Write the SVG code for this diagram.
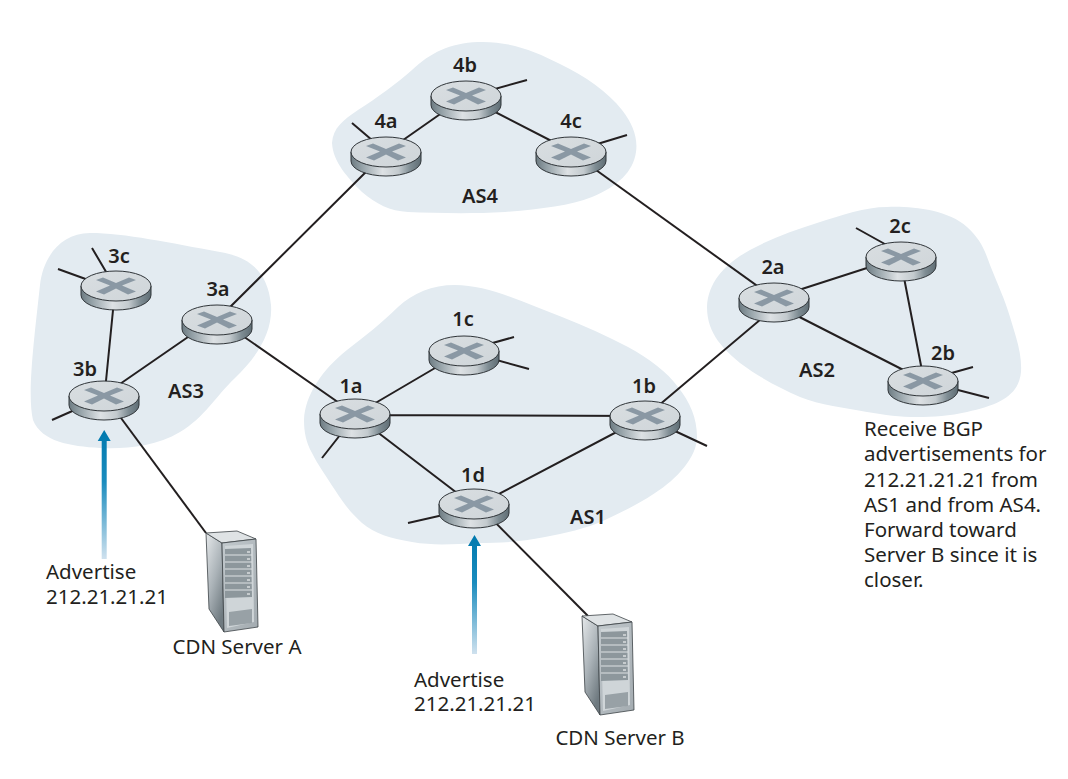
<svg xmlns="http://www.w3.org/2000/svg" width="1068" height="779" viewBox="0 0 1068 779">
<style>
.as{fill:#e3ebf1;stroke:none}
.l{stroke:#231f20;stroke-width:2;fill:none;stroke-linecap:butt}
.t{font-family:"Noto Sans","Open Sans",sans-serif;font-size:20.5px;fill:#231f20}
.b{font-family:"Noto Sans","Open Sans",sans-serif;font-size:20px;font-weight:600;fill:#231f20;text-anchor:middle}
</style>
<defs>
<linearGradient id="wall" x1="0" x2="1" y1="0" y2="0">
<stop offset="0" stop-color="#6d7b82"/><stop offset="0.15" stop-color="#93a0a6"/><stop offset="0.45" stop-color="#dde1e4"/><stop offset="0.68" stop-color="#c3cace"/><stop offset="0.85" stop-color="#7e8c93"/><stop offset="1" stop-color="#5f6d74"/>
</linearGradient>
<linearGradient id="top" x1="0" x2="1" y1="0" y2="1">
<stop offset="0" stop-color="#d9dee1"/><stop offset="1" stop-color="#cfd5d9"/>
</linearGradient>
<linearGradient id="arrA" gradientUnits="userSpaceOnUse" x1="0" x2="0" y1="430" y2="559">
<stop offset="0" stop-color="#0079ae"/><stop offset="0.4" stop-color="#1a8cbe"/><stop offset="1" stop-color="#cfe1ee"/>
</linearGradient>
<linearGradient id="arrB" gradientUnits="userSpaceOnUse" x1="0" x2="0" y1="535" y2="654">
<stop offset="0" stop-color="#0079ae"/><stop offset="0.4" stop-color="#1a8cbe"/><stop offset="1" stop-color="#cfe1ee"/>
</linearGradient>
<linearGradient id="srvFront" x1="0" x2="1" y1="0" y2="1">
<stop offset="0" stop-color="#c2c9cd"/><stop offset="1" stop-color="#a3abb0"/>
</linearGradient>
<linearGradient id="srvSide" x1="0" x2="0.6" y1="0" y2="1">
<stop offset="0" stop-color="#e6e9eb"/><stop offset="0.55" stop-color="#aab2b7"/><stop offset="1" stop-color="#6f7a80"/>
</linearGradient>
<symbol id="router" overflow="visible" viewBox="-36 -17 72 44" width="72" height="44">
<path d="M-35 0V9A35 15 0 0 0 35 9V0Z" fill="url(#wall)" stroke="#2f3438" stroke-width="1"/>
<ellipse rx="35" ry="15" fill="url(#top)" stroke="#2f3438" stroke-width="1"/>
<path d="M-20 -6L-13 -8.500L0 -3L13 -8.500L20 -6L6 -0.500L20 5.500L12 8.500L0 2.500L-12 8.500L-20 5.500L-6 -0.500Z" fill="#8695a0" fill-opacity=".95"/>
</symbol>
<symbol id="server" overflow="visible" viewBox="0 0 54 102" width="54" height="102">
<path d="M0 2L16 12L18 101L3 78Z" fill="url(#srvSide)" stroke="#3c4246" stroke-width=".8"/>
<path d="M0 2L31 0L50 8L16 12Z" fill="#dfe3e5" stroke="#3c4246" stroke-width=".8"/>
<path d="M16 12L50 8L52 96L18 101Z" fill="url(#srvFront)" stroke="#3c4246" stroke-width=".8"/>
<path d="M19 15L47 13L48 91L21 97Z" fill="#cfd5d8"/>
<path d="M19 18L45 17L46 66L19 67Z" fill="#8d979c"/>
<path d="M19 24H46M19 31H46M19 38H46M19 45H46M19 52H46M19 59H46" stroke="#dde1e3" stroke-width="1" fill="none"/>
<path d="M41 21h3M41 28h3M41 35h3M41 42h3M41 49h3M41 56h3M41 63h3" stroke="#fff" stroke-width="1" fill="none"/>
<path d="M23 81L46 78L46 92L23 95Z" fill="#98a1a6"/>
</symbol>
</defs>
<rect width="1068" height="779" fill="#fff"/>
<g id="regions">
<path class="as" d="M332 143C333 128 343 120 358 110C378 97 395 85 412 70C430 53 450 43 478 42C510 41 535 51 560 64C585 76 608 92 622 110C633 124 638 138 636 152C633 172 618 186 592 197C570 206 540 209 505 212C470 214 435 213 408 212C390 211 376 204 362 192C348 178 333 162 332 143Z"/>
<path class="as" d="M40 285C43 258 60 233 90 233C125 233 170 243 220 252C250 257 268 272 271 305C273 333 256 358 235 378C215 397 205 417 180 432C155 447 125 449 100 448C70 446 42 442 33 420C27 395 34 340 40 285Z"/>
<path class="as" d="M304 420C305 395 322 370 347 350C365 336 383 322 398 307C413 293 432 285 455 285C490 285 530 305 562 317C585 326 607 336 628 347C650 359 667 372 678 387C690 402 697 418 697 437C697 457 677 479 655 493C637 505 622 512 605 520C585 529 565 533 545 537C520 542 500 543 478 543C455 544 435 546 412 542C390 538 375 534 362 523C350 512 344 504 335 490C326 476 318 465 312 453C306 442 304 432 304 420Z"/>
<path class="as" d="M707 307C708 280 728 262 750 250C772 238 795 230 817 223C842 215 865 207 887 207C910 206 947 209 967 227C980 239 984 248 990 265C998 285 1005 300 1010 317C1017 340 1022 355 1021 372C1019 395 1000 405 967 412C950 416 933 417 917 417C900 417 885 415 867 412C845 408 820 405 800 397C780 388 760 378 740 363C725 350 707 335 707 307Z"/>
</g>
<g id="connectors">
<path class="l" d="M386 152L466 96M466 97L571 151M217 320L386 152"/>
<path class="l" d="M571 152L774 298"/>
<path class="l" d="M115 290L104.500 396M104 395L217 317M217 318L355 414"/>
<path class="l" d="M104 395L206 533"/>
<path class="l" d="M355 415L464 351M355 415L645 416M355 415L474 506M474 507L645 417M645 417L774 308"/>
<path class="l" d="M474 501L588 616"/>
<path class="l" d="M774 298L901 257M900 257L924 381M774 304L923 380"/>
<path class="l" d="M92 248L115 287M58 269L116 290"/>
<path class="l" d="M52 420L104 397"/>
<path class="l" d="M352 123L386 152M527 80L466 97M627 135L571 152"/>
<path class="l" d="M514 337L464 351M529 369L464 351"/>
<path class="l" d="M322 458L355 416M707 446L645 417M408 523L474 508"/>
<path class="l" d="M856 228L901 253M973 367L923 381M989 398L923 381"/>
</g>
<g id="arrows">
<path d="M104.200 430L110.700 441H106.700V559H101.700V441H97.700Z" fill="url(#arrA)"/>
<path d="M474.500 535L481 546H477V654H472V546H468Z" fill="url(#arrB)"/>
</g>
<g id="n4a"><use href="#router" x="350" y="135"/><text class="b" x="386" y="128">4a</text></g>
<g id="n4b"><use href="#router" x="430" y="79"/><text class="b" x="465" y="72">4b</text></g>
<g id="n4c"><use href="#router" x="535" y="135"/><text class="b" x="571" y="128">4c</text></g>
<g id="n3c"><use href="#router" x="80" y="269"/><text class="b" x="119" y="263">3c</text></g>
<g id="n3a"><use href="#router" x="181" y="303"/><text class="b" x="218" y="296">3a</text></g>
<g id="n3b"><use href="#router" x="68" y="379"/><text class="b" x="85" y="376">3b</text></g>
<g id="n1c"><use href="#router" x="428" y="334"/><text class="b" x="463" y="326">1c</text></g>
<g id="n1a"><use href="#router" x="319" y="397"/><text class="b" x="351" y="393">1a</text></g>
<g id="n1b"><use href="#router" x="609" y="399"/><text class="b" x="644" y="393">1b</text></g>
<g id="n1d"><use href="#router" x="438" y="487"/><text class="b" x="473" y="482">1d</text></g>
<g id="n2a"><use href="#router" x="738" y="281"/><text class="b" x="773" y="274">2a</text></g>
<g id="n2c"><use href="#router" x="865" y="240"/><text class="b" x="900" y="233">2c</text></g>
<g id="n2b"><use href="#router" x="887" y="364"/><text class="b" x="943" y="360">2b</text></g>
<g id="serverA"><use href="#server" x="206" y="531"/><text class="t" x="237" y="654" text-anchor="middle">CDN Server A</text></g>
<g id="serverB"><use href="#server" x="582" y="614"/><text class="t" x="620" y="745" text-anchor="middle">CDN Server B</text></g>
<g id="labels">
<text class="b" x="480" y="203">AS4</text>
<text class="b" x="186" y="398">AS3</text>
<text class="b" x="588" y="524">AS1</text>
<text class="b" x="817" y="377">AS2</text>
<text class="t" x="46" y="579">Advertise</text>
<text class="t" x="46" y="604">212.21.21.21</text>
<text class="t" x="414" y="687">Advertise</text>
<text class="t" x="414" y="711">212.21.21.21</text>
<text class="t" x="864" y="436">Receive BGP</text>
<text class="t" x="864" y="461">advertisements for</text>
<text class="t" x="864" y="487">212.21.21.21 from</text>
<text class="t" x="864" y="512">AS1 and from AS4.</text>
<text class="t" x="864" y="537">Forward toward</text>
<text class="t" x="864" y="562">Server B since it is</text>
<text class="t" x="864" y="587">closer.</text>
</g>
</svg>
